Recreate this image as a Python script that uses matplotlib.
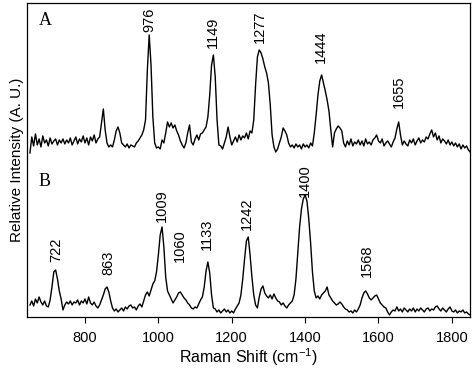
import matplotlib
matplotlib.use("Agg")
import matplotlib.pyplot as plt
import numpy as np

plt.rcParams["font.family"] = ["Liberation Sans", "DejaVu Sans"]
plt.rcParams["mathtext.fontset"] = "custom"
plt.rcParams["mathtext.rm"] = "Liberation Sans"

# Raman shift grid, cm^-1 (one reading every 5 cm^-1, 650..1850)
shift = np.arange(650, 1851, 5)

# trace A (relative units)
spec_a = [
    2, 18, 9, 21, 10, 16, 8, 19, 12, 15, 9, 17, 11, 14, 16, 10, 15, 12, 16, 11,          # 650-745
    15, 12, 17, 10, 14, 18, 11, 16, 13, 19, 12, 17, 10, 18, 14, 20, 12, 16, 18, 32,      # 750-845
    46, 25, 12, 8, 10, 8, 15, 24, 28, 22, 12, 10, 8, 11, 7, 10, 9, 8, 12, 14,            # 850-945
    17, 20, 25, 35, 85, 120, 90, 38, 12, 7, 8, 6, 15, 12, 22, 33, 28, 32, 27, 30,        # 950-1045
    24, 20, 14, 10, 7, 12, 22, 30, 13, 10, 16, 20, 15, 21, 22, 25, 28, 38, 60, 90,       # 1050-1145
    100, 78, 35, 10, 9, 6, 12, 18, 28, 18, 10, 14, 18, 13, 20, 15, 19, 17, 22, 16,       # 1150-1245
    24, 22, 35, 70, 98, 105, 102, 96, 88, 82, 72, 50, 20, 8, 3, 6, 12, 18, 27, 24,       # 1250-1345
    20, 12, 8, 10, 7, 11, 8, 10, 6, 11, 8, 10, 7, 12, 9, 22, 40, 60, 74, 80,             # 1350-1445
    72, 64, 55, 44, 25, 8, 22, 26, 29, 27, 24, 12, 8, 14, 10, 16, 9, 13, 11, 15,         # 1450-1545
    10, 14, 9, 16, 11, 13, 10, 15, 17, 20, 14, 12, 16, 9, 12, 14, 11, 8, 13, 17,         # 1550-1645
    26, 33, 20, 10, 14, 11, 9, 15, 12, 16, 10, 14, 17, 12, 15, 13, 18, 16, 21, 25,       # 1650-1745
    18, 22, 15, 19, 12, 16, 14, 11, 15, 10, 13, 9, 12, 8, 11, 6, 10, 7, 9, 5,            # 1750-1845
    3,
]

# trace B
spec_b = [
    12, 16, 11, 18, 14, 20, 15, 12, 16, 11, 10, 17, 30, 45, 47, 38, 26, 18, 7, 12,       # 650-745
    15, 13, 16, 12, 15, 14, 17, 12, 16, 14, 18, 13, 20, 14, 12, 15, 11, 9, 12, 17,       # 750-845
    22, 28, 30, 25, 16, 9, 6, 8, 5, 7, 9, 6, 10, 8, 11, 12, 9, 10, 7, 11,                # 850-945
    13, 10, 16, 22, 25, 21, 27, 33, 36, 45, 62, 82, 90, 70, 40, 26, 22, 18, 14, 17,      # 950-1045
    20, 24, 25, 22, 19, 17, 14, 12, 9, 8, 10, 9, 13, 17, 20, 30, 46, 55, 44, 22,         # 1050-1145
    9, 8, 5, 7, 4, 6, 8, 5, 7, 4, 6, 4, 8, 11, 14, 22, 38, 58, 76, 80,                   # 1150-1245
    62, 40, 22, 12, 9, 20, 28, 31, 24, 21, 19, 22, 18, 23, 19, 16, 15, 12, 14, 11,       # 1250-1345
    9, 12, 14, 16, 22, 38, 64, 90, 108, 118, 122, 116, 98, 74, 45, 26, 19, 21, 18, 22,   # 1350-1445
    24, 26, 30, 22, 19, 16, 14, 12, 13, 15, 13, 10, 8, 7, 5, 6, 4, 7, 5, 8,              # 1450-1545
    12, 19, 24, 26, 23, 19, 17, 19, 21, 22, 18, 14, 12, 10, 9, 5, 2, 5, 7, 6,            # 1550-1645
    10, 6, 8, 5, 9, 7, 5, 8, 6, 9, 5, 8, 6, 9, 7, 5, 8, 9, 6, 8,                         # 1650-1745
    7, 10, 11, 8, 6, 9, 7, 5, 8, 10, 6, 5, 7, 4, 6, 5, 7, 4, 5, 3,                       # 1750-1845
    2,
]

peaks_a = [976, 1149, 1277, 1444, 1655]
peaks_b = [722, 863, 1009, 1060, 1133, 1242, 1400, 1568]

# vertical position of each peak label (bottom of text, axis units)
label_y_a = [285, 269, 274, 254, 209]
label_y_b = [55, 42, 95, 55, 67, 87, 120, 40]

offset_a = 162

fig = plt.figure(figsize=(4.74, 3.69), dpi=100)
ax = fig.add_axes([0.057, 0.141, 0.935, 0.851])

ax.plot(shift, np.array(spec_a) + offset_a, color="black", lw=1.0)
ax.plot(shift, spec_b, color="black", lw=1.0)

for wn, y in zip(peaks_a, label_y_a):
    ax.text(wn, y, str(wn), rotation=90, ha="center", va="bottom", fontsize=10.5)
for wn, y in zip(peaks_b, label_y_b):
    ax.text(wn, y, str(wn), rotation=90, ha="center", va="bottom", fontsize=10.5)

ax.text(691, 296, "A", family=["Liberation Serif"], fontsize=13, ha="center", va="center")
ax.text(691, 135, "B", family=["Liberation Serif"], fontsize=13, ha="center", va="center")

ax.set_xlim(642, 1850)
ax.set_ylim(0, 314)
ax.set_yticks([])
ax.set_xticks([800, 1000, 1200, 1400, 1600, 1800])
ax.tick_params(axis="x", direction="out", length=4, width=0.8, labelsize=10.5, pad=6)
for sp in ax.spines.values():
    sp.set_linewidth(0.9)

ax.set_xlabel(r"Raman Shift (cm$^{\mathregular{-1}}$)", fontsize=11.5, labelpad=1)
ax.set_ylabel("Relative Intensity (A. U.)", fontsize=11, labelpad=2)

fig.savefig("out.png", dpi=100)
